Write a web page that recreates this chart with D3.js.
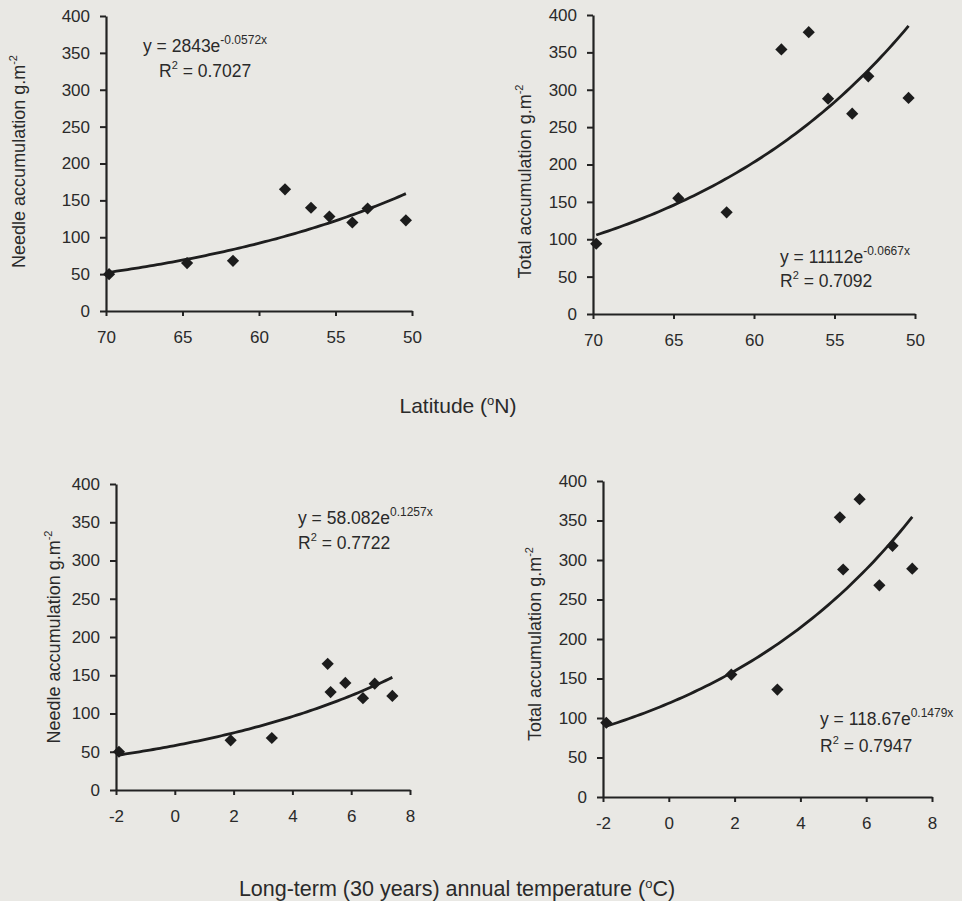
<!DOCTYPE html>
<html>
<head>
<meta charset="utf-8">
<script src="https://cdn.jsdelivr.net/npm/d3@7"></script>
<style>
  html, body { margin: 0; padding: 0; background: #e9e8e4; }
  svg { display: block; }
  text { font-family: "Liberation Sans", Arial, sans-serif; fill: #2a2a2a; }
</style>
</head>
<body>
<svg id="chart" width="962" height="901"></svg>
<script>
// ######### DATA ###########
// site latitudes (°N) and long-term annual temperature (°C), one per site
var latitude = [69.8, 64.7, 61.7, 58.3, 56.6, 55.4, 53.9, 52.9, 50.4];
var temperature = [-1.9, 1.9, 3.3, 5.2, 5.8, 5.3, 6.4, 6.8, 7.4];
// accumulation, g.m-2
var needleAcc = [50, 65, 68, 165, 140, 128, 120, 139, 123];
var totalAcc = [94, 155, 136, 354, 377, 288, 268, 318, 289];

var latTicks = [70, 65, 60, 55, 50];
var tempTicks = [-2, 0, 2, 4, 6, 8];
var yTicks = [0, 50, 100, 150, 200, 250, 300, 350, 400];

// exponential trend lines y = a * e^(b x) as printed on the figure
var fitNeedleLat = [2843, -0.0572], r2NeedleLat = "0.7027";
var fitTotalLat = [11112, -0.0667], r2TotalLat = "0.7092";
var fitNeedleTemp = [58.082, 0.1257], r2NeedleTemp = "0.7722";
var fitTotalTemp = [118.67, 0.1479], r2TotalTemp = "0.7947";

var svg = d3.select("#chart");

function drawPanel(p) {
    var x = d3.scaleLinear().domain(p.xDomain).range(p.xRange);
    var y = d3.scaleLinear().domain([0, 400]).range(p.yRange);
    var g = svg.append("g");

    var yAxis = d3.axisLeft(y).tickValues(yTicks).tickSize(6).tickSizeOuter(0).tickPadding(10);
    var xAxis = d3.axisBottom(x).tickValues(p.xTicks).tickSize(5).tickSizeOuter(0).tickPadding(15)
        .tickFormat(function(d) { return d; });

    var ya = g.append("g").attr("transform", "translate(" + p.xRange[0] + ",0)").call(yAxis);
    var xa = g.append("g").attr("transform", "translate(0," + p.yRange[0] + ")").call(xAxis);
    [ya, xa].forEach(function(a) {
        a.select(".domain").attr("stroke", "#222").attr("stroke-width", 2.2);
        a.selectAll(".tick line").attr("stroke", "#222").attr("stroke-width", 2);
        a.selectAll(".tick text").attr("font-size", 17).style("fill", "#2a2a2a")
            .attr("font-family", "'Liberation Sans', Arial, sans-serif");
    });

    // trend line over the data range
    var ext = d3.extent(p.xs);
    var line = d3.line().x(function(d) { return x(d); })
        .y(function(d) { return y(p.fit[0] * Math.exp(p.fit[1] * d)); });
    var samples = d3.range(ext[0], ext[1], (ext[1] - ext[0]) / 80).concat([ext[1]]);
    g.append("path").datum(samples).attr("d", line)
        .attr("fill", "none").attr("stroke", "#1e1e1e").attr("stroke-width", 2.8);

    // diamonds
    g.selectAll(".pt").data(p.xs).enter().append("path")
        .attr("class", "pt")
        .attr("d", d3.symbol().type(d3.symbolDiamond2).size(95))
        .attr("transform", function(d, i) { return "translate(" + x(d) + "," + y(p.ys[i]) + ")"; })
        .attr("fill", "#1c1c1c");

    // y axis title
    var cy = (p.yRange[0] + p.yRange[1]) / 2 + p.labelDy;
    var t = g.append("text")
        .attr("transform", "translate(" + p.labelX + "," + cy + ") rotate(-90)")
        .attr("text-anchor", "middle").attr("font-size", 18);
    t.append("tspan").text(p.ylabel + " g.m");
    t.append("tspan").attr("font-size", 11).attr("dy", -8).text("-2");

    // equation
    var eq = g.append("text").attr("x", p.eqX).attr("y", p.eqY).attr("font-size", 17.5);
    eq.append("tspan").text("y = " + p.fit[0] + "e");
    eq.append("tspan").attr("font-size", 12).attr("dy", -8).text(p.fit[1] + "x");
    var r = g.append("text").attr("x", p.rX).attr("y", p.rY).attr("font-size", 17.5);
    r.append("tspan").text("R");
    r.append("tspan").attr("font-size", 11).attr("dy", -8).text("2");
    r.append("tspan").attr("dy", 8).text(" = " + p.r2);
}

drawPanel({ xDomain: [70, 50], xRange: [106, 412], yRange: [311, 16], xTicks: latTicks,
    xs: latitude, ys: needleAcc, fit: fitNeedleLat, r2: r2NeedleLat,
    ylabel: "Needle accumulation", labelX: 25, labelDy: -2,
    eqX: 143, eqY: 52, rX: 159, rY: 77 });

drawPanel({ xDomain: [70, 50], xRange: [593, 915], yRange: [314, 15], xTicks: latTicks,
    xs: latitude, ys: totalAcc, fit: fitTotalLat, r2: r2TotalLat,
    ylabel: "Total accumulation", labelX: 531, labelDy: 17,
    eqX: 780, eqY: 263, rX: 780, rY: 287 });

drawPanel({ xDomain: [-2, 8], xRange: [116, 410], yRange: [790, 484], xTicks: tempTicks,
    xs: temperature, ys: needleAcc, fit: fitNeedleTemp, r2: r2NeedleTemp,
    ylabel: "Needle accumulation", labelX: 60, labelDy: 0,
    eqX: 298, eqY: 524, rX: 298, rY: 549 });

drawPanel({ xDomain: [-2, 8], xRange: [603, 932], yRange: [797, 481], xTicks: tempTicks,
    xs: temperature, ys: totalAcc, fit: fitTotalTemp, r2: r2TotalTemp,
    ylabel: "Total accumulation", labelX: 541, labelDy: 5,
    eqX: 820, eqY: 725, rX: 820, rY: 752 });

// shared x axis titles
var lt = svg.append("text").attr("x", 458).attr("y", 413).attr("text-anchor", "middle").attr("font-size", 21);
lt.append("tspan").text("Latitude (");
lt.append("tspan").attr("font-size", 13).attr("dy", -8).text("o");
lt.append("tspan").attr("dy", 8).text("N)");

var tt = svg.append("text").attr("x", 457).attr("y", 896).attr("text-anchor", "middle").attr("font-size", 21.5);
tt.append("tspan").text("Long-term (30 years) annual temperature (");
tt.append("tspan").attr("font-size", 13).attr("dy", -8).text("o");
tt.append("tspan").attr("dy", 8).text("C)");
</script>
</body>
</html>
